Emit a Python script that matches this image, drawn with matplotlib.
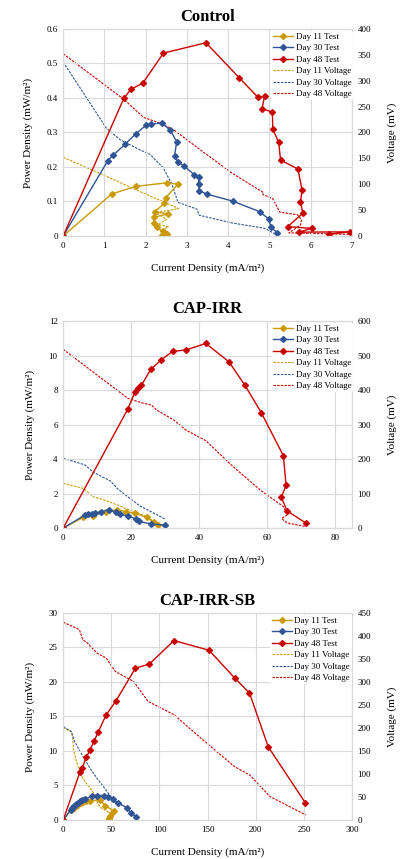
import numpy as np
import matplotlib
matplotlib.use("Agg")
import matplotlib.pyplot as plt

plt.rcParams['font.family'] = ['Liberation Serif', 'DejaVu Serif']

# colours
gold = '#C99A06'
blue = '#2F5597'
red = '#C80000'
gridc = '#D9D9D9'

###########
# Control #
###########
c_d11_x = [0, 1.18, 1.77, 2.51, 2.78, 2.49, 2.45, 2.22, 2.54, 2.19, 2.20, 2.28, 2.41, 2.51, 2.39]
c_d11_y = [0, 0.122, 0.144, 0.154, 0.150, 0.111, 0.095, 0.070, 0.064, 0.054, 0.037, 0.025, 0.013, 0.006, 0.002]
c_d30_x = [0, 1.08, 1.21, 1.51, 1.76, 2.01, 2.13, 2.39, 2.60, 2.75, 2.70, 2.78, 2.92, 3.18, 3.29, 3.28, 3.30, 3.49, 4.11, 4.77, 4.98, 5.04, 5.18]
c_d30_y = [0, 0.218, 0.234, 0.267, 0.296, 0.321, 0.324, 0.328, 0.306, 0.273, 0.232, 0.213, 0.204, 0.177, 0.171, 0.151, 0.131, 0.121, 0.101, 0.070, 0.049, 0.025, 0.010]
c_d48_x = [0, 1.47, 1.64, 1.93, 2.43, 3.46, 4.27, 4.72, 4.88, 4.82, 5.07, 5.08, 5.22, 5.27, 5.69, 5.79, 5.75, 5.81, 5.44, 6.02, 5.71, 6.96, 6.45]
c_d48_y = [0, 0.399, 0.425, 0.443, 0.530, 0.560, 0.458, 0.402, 0.405, 0.369, 0.359, 0.310, 0.272, 0.220, 0.194, 0.132, 0.099, 0.066, 0.027, 0.022, 0.011, 0.012, 0.005]
c_v11_x = [0, 1.0, 1.8, 2.80, 2.25, 2.50, 2.30, 2.55, 2.35, 2.45]
c_v11_y = [152, 117, 88, 53, 45, 32, 22, 18, 10, 3]
c_v30_x = [0, 0.5, 1.05, 1.38, 1.87, 2.10, 2.43, 2.64, 2.72, 2.78, 3.24, 3.30, 4.10, 4.87, 5.19]
c_v30_y = [336, 275, 208, 186, 166, 158, 131, 99, 80, 65, 52, 40, 25, 15, 2]
c_v48_x = [0, 1.47, 1.95, 2.35, 2.68, 3.33, 4.10, 4.85, 4.84, 5.08, 5.25, 5.68, 5.78, 5.75, 5.47, 6.97]
c_v48_y = [352, 264, 229, 218, 205, 166, 121, 84, 80, 72, 46, 41, 31, 21, 6, 3]

###########
# CAP-IRR #
###########
i_d11_x = [0, 5.9, 8.9, 12.5, 15.9, 18.5, 21.1, 24.6, 26.6, 28.0]
i_d11_y = [0, 0.62, 0.72, 0.95, 1.06, 0.95, 0.85, 0.62, 0.35, 0.17]
i_d30_x = [0, 6.4, 7.4, 8.4, 9.3, 11.1, 13.5, 15.5, 16.6, 19.1, 21.5, 22.4, 25.7, 30.1]
i_d30_y = [0, 0.75, 0.81, 0.82, 0.86, 0.95, 1.06, 0.91, 0.79, 0.71, 0.51, 0.38, 0.24, 0.17]
i_d48_x = [0, 19.0, 21.1, 22.1, 23.0, 25.8, 28.8, 32.2, 36.1, 42.0, 48.8, 53.5, 58.3, 64.8, 65.6, 64.2, 65.9, 71.5]
i_d48_y = [0, 6.89, 7.88, 8.13, 8.27, 9.20, 9.74, 10.24, 10.32, 10.70, 9.63, 8.27, 6.69, 4.19, 2.47, 1.78, 0.99, 0.28]
i_v11_x = [0, 5.9, 8.8, 12.8, 19.6, 24.7, 28.0]
i_v11_y = [129.5, 115, 91, 79, 52, 33, 9]
i_v30_x = [0, 6.4, 8.8, 13.8, 16.2, 19.6, 22.6, 30.2]
i_v30_y = [202, 183, 162, 137, 112, 86, 64, 25]
i_v48_x = [0, 19.0, 23.1, 26.0, 27.5, 32.4, 36.1, 42.0, 50.0, 58.0, 64.8, 66.0, 64.3, 65.8, 71.5]
i_v48_y = [518, 376, 363, 356, 342, 314, 284, 253, 178, 110, 62, 38, 28, 15, 4]

##############
# CAP-IRR-SB #
##############
s_d11_x = [0, 8.0, 9.5, 11.0, 13.0, 15.0, 18.0, 21.0, 23.5, 27.5, 38.0, 43.5, 52.5, 51.0, 49.0, 48.0, 47.5]
s_d11_y = [0, 1.4, 1.6, 1.8, 2.0, 2.2, 2.4, 2.6, 2.8, 2.75, 2.95, 2.1, 1.3, 1.0, 0.6, 0.35, 0.2]
s_d30_x = [0, 8.0, 9.0, 10.0, 11.5, 13.0, 15.0, 17.0, 19.5, 23.0, 30.0, 35.0, 42.0, 46.5, 51.5, 56.5, 66.0, 70.5, 75.5]
s_d30_y = [0, 1.5, 1.7, 1.9, 2.1, 2.3, 2.5, 2.7, 2.85, 3.05, 3.5, 3.55, 3.55, 3.35, 3.0, 2.5, 1.8, 1.0, 0.5]
s_d48_x = [0, 17.5, 20.0, 24.0, 28.0, 32.0, 36.5, 44.5, 54.5, 75.0, 89.5, 115.0, 151.5, 178.0, 193.5, 213.0, 251.5]
s_d48_y = [0, 7.0, 7.6, 9.1, 10.2, 11.4, 12.8, 15.2, 17.2, 22.0, 22.6, 26.0, 24.6, 20.6, 18.4, 10.6, 2.5]
s_v11_x = [0, 8.0, 9.0, 10.0, 11.0, 14.0, 18.0, 22.0, 27.0, 33.0, 36.0, 40.0, 45.0, 48.0, 52.0]
s_v11_y = [200, 193, 188, 172, 150, 125, 100, 85, 72, 55, 35, 25, 20, 15, 18]
s_v30_x = [0, 8.5, 12.0, 20.0, 28.0, 36.0, 42.0, 48.0, 53.0, 58.0]
s_v30_y = [203, 192, 170, 140, 112, 88, 72, 55, 40, 28]
s_v48_x = [0, 16.8, 20.3, 25.0, 35.0, 44.7, 54.1, 73.2, 88.0, 115.0, 143.0, 178.0, 193.6, 214.8, 251.9]
s_v48_y = [430, 414, 392, 385, 363, 352, 323, 301, 258, 229, 178, 116, 98, 51, 11]

panels = [
    dict(title='Control', bottom=0.7253, xlim=(0, 7), xt=np.arange(0, 8, 1), ylim=(0, 0.6), yt=np.arange(0, 0.61, 0.1),
         y2=(0, 400), y2t=np.arange(0, 401, 50),
         d11=(c_d11_x, c_d11_y), d30=(c_d30_x, c_d30_y), d48=(c_d48_x, c_d48_y),
         v11=(c_v11_x, c_v11_y), v30=(c_v30_x, c_v30_y), v48=(c_v48_x, c_v48_y), legx=0.715),
    dict(title='CAP-IRR', bottom=0.3853, xlim=(0, 85), xt=np.arange(0, 81, 20), ylim=(0, 12), yt=np.arange(0, 13, 2),
         y2=(0, 600), y2t=np.arange(0, 601, 100),
         d11=(i_d11_x, i_d11_y), d30=(i_d30_x, i_d30_y), d48=(i_d48_x, i_d48_y),
         v11=(i_v11_x, i_v11_y), v30=(i_v30_x, i_v30_y), v48=(i_v48_x, i_v48_y), legx=0.715),
    dict(title='CAP-IRR-SB', bottom=0.0454, xlim=(0, 300), xt=np.arange(0, 301, 50), ylim=(0, 30), yt=np.arange(0, 31, 5),
         y2=(0, 450), y2t=np.arange(0, 451, 50),
         d11=(s_d11_x, s_d11_y), d30=(s_d30_x, s_d30_y), d48=(s_d48_x, s_d48_y),
         v11=(s_v11_x, s_v11_y), v30=(s_v30_x, s_v30_y), v48=(s_v48_x, s_v48_y), legx=0.71),
]

fig = plt.figure(figsize=(4.0, 8.59), dpi=100)

dash = (0, (2.2, 1.1))
for p in panels:
    ax = fig.add_axes([0.158, p['bottom'], 0.722, 0.241])
    ax2 = ax.twinx()
    ax.set_zorder(ax2.get_zorder() + 1)
    ax.patch.set_visible(False)

    h = []
    for key, col, lab in [('d11', gold, 'Day 11 Test'), ('d30', blue, 'Day 30 Test'), ('d48', red, 'Day 48 Test')]:
        ln, = ax.plot(p[key][0], p[key][1], color=col, lw=1.0, marker='D', ms=3.0, label=lab)
        h.append(ln)
    for key, col, lab in [('v11', gold, 'Day 11 Voltage'), ('v30', blue, 'Day 30 Voltage'), ('v48', red, 'Day 48 Voltage')]:
        ln, = ax2.plot(p[key][0], p[key][1], color=col, lw=0.8, linestyle=dash, label=lab)
        h.append(ln)

    ax.set_xlim(*p['xlim'])
    ax.set_ylim(*p['ylim'])
    ax2.set_ylim(*p['y2'])
    ax.set_xticks(p['xt'])
    ax.set_yticks(p['yt'])
    ax.set_yticklabels(['{:g}'.format(round(v, 2)) for v in p['yt']])
    ax2.set_yticks(p['y2t'])
    ax.grid(True, color=gridc, lw=0.8)
    ax.set_axisbelow(True)
    for a in (ax, ax2):
        for s in a.spines.values():
            s.set_color(gridc)
            s.set_linewidth(0.8)
        a.tick_params(length=0, labelsize=6.5, pad=4)

    ax.set_title(p['title'], fontsize=12, fontweight='bold', pad=6)
    ax.set_xlabel('Current Density (mA/m²)', fontsize=8, labelpad=10)
    ax.set_ylabel('Power Density (mW/m²)', fontsize=8, labelpad=10)
    ax2.set_ylabel('Voltage (mV)', fontsize=8, labelpad=12)

    leg = ax.legend(handles=h, loc='upper left', bbox_to_anchor=(p['legx'], 1.0), fontsize=6.5,
                    frameon=True, facecolor='white', edgecolor='none', framealpha=1,
                    handlelength=2.2, handletextpad=0.3, labelspacing=0.35, borderpad=0.2, borderaxespad=0.2)

fig.savefig('out.png', dpi=100)
